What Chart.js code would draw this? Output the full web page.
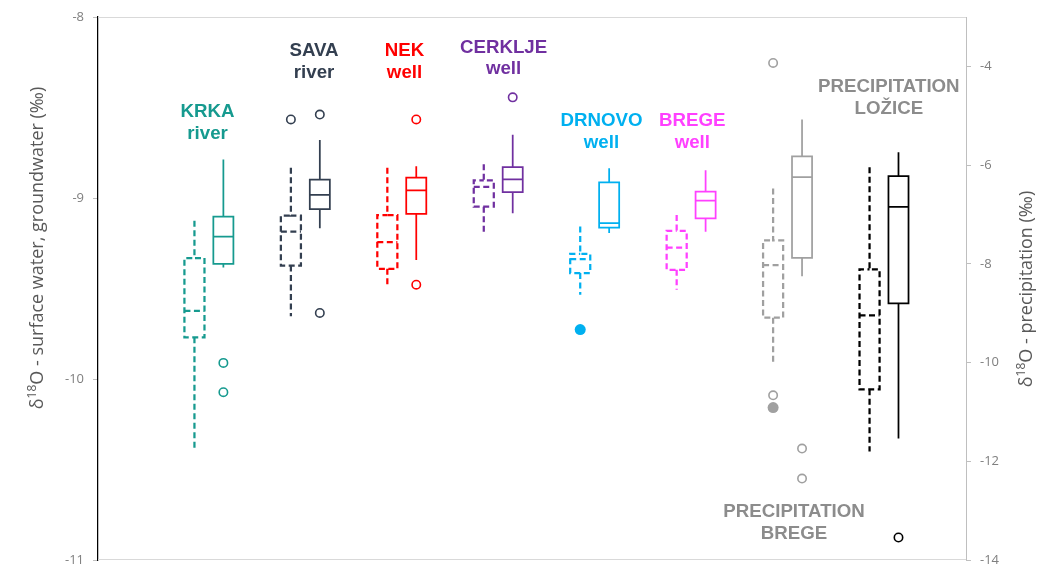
<!DOCTYPE html>
<html>
<head>
<meta charset="utf-8">
<title>δ18O – box plots</title>
<script src="https://cdn.jsdelivr.net/npm/chart.js@4.4.1/dist/chart.umd.min.js"></script>
<style>
  html, body { margin: 0; padding: 0; background: #fff; }
  #wrap { width: 1048px; height: 584px; }
</style>
</head>
<body>
<div id="wrap"><canvas id="graficoIsotopos"></canvas></div>
<script>
// Sampling sites (label lines) and the axis each one is read on
const sites = [['KRKA', 'river'], ['SAVA', 'river'], ['NEK', 'well'], ['CERKLJE', 'well'],
               ['DRNOVO', 'well'], ['BREGE', 'well'], ['PRECIPITATION', 'BREGE'], ['PRECIPITATION', 'LOŽICE']];
const siteAxis = ['y', 'y', 'y', 'y', 'y', 'y', 'y2', 'y2'];

// First series (dashed boxes): whisker low, Q1, median, Q3, whisker high
const dashedMin = [-10.385, -9.654, -9.485, -9.198, -9.534, -9.507, -10.003, -11.804];
const dashedQ1  = [-9.770, -9.373, -9.391, -9.048, -9.415, -9.397, -9.092, -10.543];
const dashedMed = [-9.623, -9.186, -9.244, -8.938, -9.338, -9.274, -8.027, -9.045];
const dashedQ3  = [-9.332, -9.098, -9.094, -8.902, -9.309, -9.182, -7.527, -8.114];
const dashedMax = [-9.125, -8.833, -8.833, -8.814, -9.158, -9.094, -6.475, -6.044];
const dashedOutliers       = [[], [-8.566], [], [], [], [], [-3.931, -10.664], []];
const dashedFilledOutliers = [[], [], [], [], [-9.727], [], [-10.913], []];

// Second series (solid boxes)
const solidMin = [-9.384, -9.167, -9.342, -9.084, -9.194, -9.186, -8.250, -11.541];
const solidQ1  = [-9.364, -9.061, -9.088, -8.967, -9.164, -9.112, -7.878, -8.802];
const solidMed = [-9.213, -8.983, -8.958, -8.897, -9.139, -9.015, -6.246, -6.845];
const solidQ3  = [-9.103, -8.899, -8.888, -8.829, -8.913, -8.965, -5.821, -6.226];
const solidMax = [-8.787, -8.680, -8.824, -8.651, -8.836, -8.846, -5.078, -5.740];
const solidOutliers = [[-9.911, -10.073], [-8.539, -9.635], [-8.566, -9.479], [-8.444], [], [], [-11.743, -12.350], [-13.544]];

// Axis ticks
const leftTicks  = [-11, -10, -9, -8];
const rightTicks = [-14, -12, -10, -8, -6, -4];

// ---- styles ----
const lineColors  = ['#169a8f', '#333f50', '#ff0000', '#7030a0', '#00b0f0', '#ff40ff', '#a0a0a0', '#000000'];
const labelColors = ['#169a8f', '#333f50', '#ff0000', '#7030a0', '#00b0f0', '#ff40ff', '#8c8c8c', '#8c8c8c'];
const HALF = 0.104;   // half box width (x units)
const OFFSET = 0.3;   // solid box sits right of the dashed one
// where each site label is written (x units, value on its axis)
const labelAnchors = [
  { x: 1.136, y: -8.526 }, { x: 2.240, y: -8.188 }, { x: 3.178, y: -8.188 }, { x: 4.205, y: -8.170 },
  { x: 5.220, y: -8.574 }, { x: 6.162, y: -8.574 }, { x: 7.217, y: -13.026 }, { x: 8.200, y: -4.417 }
];

// box outline + median + whiskers as one broken line
function boxPath(c, lo, q1, med, q3, hi) {
  return [
    { x: c, y: hi }, { x: c, y: q3 }, { x: c + HALF, y: q3 }, { x: c + HALF, y: q1 },
    { x: c - HALF, y: q1 }, { x: c - HALF, y: q3 }, { x: c, y: q3 }, { x: c, y: null },
    { x: c - HALF, y: med }, { x: c + HALF, y: med }, { x: c, y: null },
    { x: c, y: q1 }, { x: c, y: lo }
  ];
}

const datasets = [];
sites.forEach((s, i) => {
  const c1 = i + 1, c2 = i + 1 + OFFSET;
  datasets.push({
    type: 'line', yAxisID: siteAxis[i],
    data: boxPath(c1, dashedMin[i], dashedQ1[i], dashedMed[i], dashedQ3[i], dashedMax[i]),
    borderColor: lineColors[i], borderWidth: 2.25, borderDash: [6, 3.5],
    pointRadius: 0, fill: false, spanGaps: false, borderJoinStyle: 'miter'
  });
  datasets.push({
    type: 'line', yAxisID: siteAxis[i],
    data: boxPath(c2, solidMin[i], solidQ1[i], solidMed[i], solidQ3[i], solidMax[i]),
    borderColor: lineColors[i], borderWidth: 1.75,
    pointRadius: 0, fill: false, spanGaps: false, borderJoinStyle: 'miter'
  });
  const open = dashedOutliers[i].map(v => ({ x: c1, y: v }))
    .concat(solidOutliers[i].map(v => ({ x: c2, y: v })));
  if (open.length) {
    datasets.push({
      type: 'scatter', yAxisID: siteAxis[i], data: open,
      pointRadius: 4.2, pointBorderWidth: 1.6,
      pointBackgroundColor: '#ffffff', pointBorderColor: lineColors[i]
    });
  }
  if (dashedFilledOutliers[i].length) {
    datasets.push({
      type: 'scatter', yAxisID: siteAxis[i],
      data: dashedFilledOutliers[i].map(v => ({ x: c1, y: v })),
      pointRadius: 5.5, pointBorderWidth: 0,
      pointBackgroundColor: lineColors[i], pointBorderColor: lineColors[i]
    });
  }
});

// δ¹⁸O axis title with a real superscript
function drawIsoTitle(ctx, x, y, rest) {
  ctx.save();
  ctx.translate(x, y);
  ctx.rotate(-Math.PI / 2);
  const big = '18px "Open Sans"', small = '12px "Open Sans"';
  ctx.font = big;
  const w1 = ctx.measureText('δ').width, w3 = ctx.measureText('O' + rest).width;
  ctx.font = small;
  const w2 = ctx.measureText('18').width;
  let cx = -(w1 + w2 + w3) / 2;
  ctx.fillStyle = '#595959';
  ctx.textAlign = 'left';
  ctx.textBaseline = 'middle';
  ctx.font = big; ctx.fillText('δ', cx, 0); cx += w1;
  ctx.font = small; ctx.fillText('18', cx, -5); cx += w2;
  ctx.font = big; ctx.fillText('O' + rest, cx, 0);
  ctx.restore();
}

const decorations = {
  id: 'decorations',
  beforeDatasetsDraw(chart) {
    const { ctx, chartArea: a } = chart;
    ctx.save();
    ctx.strokeStyle = '#d9d9d9';
    ctx.lineWidth = 1;
    ctx.beginPath();
    ctx.moveTo(a.left, a.top + 0.5); ctx.lineTo(a.right, a.top + 0.5);
    ctx.moveTo(a.left, a.bottom - 0.5); ctx.lineTo(a.right, a.bottom - 0.5);
    ctx.stroke();
    ctx.restore();
  },
  afterDraw(chart) {
    const ctx = chart.ctx;
    ctx.save();
    ctx.font = 'bold 18.7px "Liberation Sans", Arial, sans-serif';
    ctx.textAlign = 'center';
    ctx.textBaseline = 'middle';
    sites.forEach((lines, i) => {
      const px = chart.scales.x.getPixelForValue(labelAnchors[i].x);
      const py = chart.scales[siteAxis[i]].getPixelForValue(labelAnchors[i].y);
      ctx.fillStyle = labelColors[i];
      lines.forEach((t, k) => ctx.fillText(t, px, py + k * 21.5));
    });
    ctx.restore();
    drawIsoTitle(ctx, 38, 248, ' - surface water, groundwater (‰)');
    drawIsoTitle(ctx, 1027, 289, ' - precipitation (‰)');
  }
};

const tickFont = { family: 'Open Sans', size: 13 };

new Chart(document.getElementById('graficoIsotopos').getContext('2d'), {
  type: 'line',
  data: { datasets },
  options: {
    responsive: true,
    maintainAspectRatio: false,
    animation: false,
    events: [],
    layout: { padding: { top: 17, bottom: 24, left: 0, right: 0 } },
    plugins: { legend: { display: false }, tooltip: { enabled: false } },
    scales: {
      x: { type: 'linear', min: 0, max: 9, display: false },
      y: {
        position: 'left', min: -11, max: -8,
        afterBuildTicks: s => { s.ticks = leftTicks.map(v => ({ value: v })); },
        afterFit: s => { s.width = 98; },
        ticks: { color: '#7f7f7f', font: tickFont, padding: 9 },
        grid: { drawOnChartArea: false, drawTicks: true, tickLength: 5, color: '#bfbfbf' },
        border: { color: '#000000', width: 1.25 }
      },
      y2: {
        position: 'right', min: -14, max: -3,
        afterBuildTicks: s => { s.ticks = rightTicks.map(v => ({ value: v })); },
        afterFit: s => { s.width = 82; },
        ticks: { color: '#7f7f7f', font: tickFont, padding: 9 },
        grid: { drawOnChartArea: false, drawTicks: true, tickLength: 5, color: '#bfbfbf' },
        border: { color: '#bfbfbf', width: 1 }
      }
    }
  },
  plugins: [decorations]
});
</script>
</body>
</html>
